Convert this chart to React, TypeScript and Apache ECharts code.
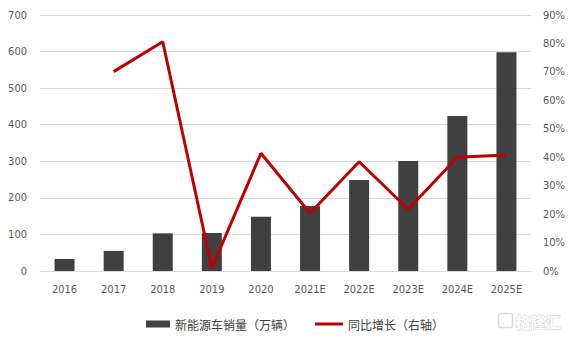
import React, { useEffect, useRef } from "react";
import * as echarts from "echarts";

const categories = ["2016", "2017", "2018", "2019", "2020", "2021E", "2022E", "2023E", "2024E", "2025E"];
const salesValues = [33, 55, 103, 104, 148, 178, 249, 301, 424, 598];
const growthValues: (number | null)[] = [null, 70.1, 80.6, 1.0, 41.4, 20.3, 38.4, 21.7, 40.0, 40.8];
const leftTicks = { min: 0, max: 700, interval: 100 };
const rightTicks = { min: 0, max: 90, interval: 10 };
const barName = "新能源车销量（万辆）";
const lineName = "同比增长（右轴）";

const FONT = "'Liberation Sans Narrow', 'DejaVu Sans Condensed', sans-serif";
const CJK = "'Noto Sans CJK SC', sans-serif";

export default function App() {
  const ref = useRef<HTMLDivElement>(null);
  useEffect(() => {
    if (!ref.current) return;
    const chart = echarts.init(ref.current, undefined, { renderer: "svg" });
    const legendText = { color: "#404040", fontSize: 12, fontFamily: CJK };
    chart.setOption({
      animation: false,
      backgroundColor: "#ffffff",
      grid: { left: 40, right: 40, top: 15, bottom: 70 },
      legend: [
        {
          left: 141,
          top: 313,
          itemGap: 4,
          itemWidth: 24,
          itemHeight: 7,
          textStyle: legendText,
          data: [{ name: barName, icon: "rect" }],
        },
        {
          left: 310,
          top: 313,
          itemGap: 4,
          itemWidth: 28,
          itemHeight: 3,
          textStyle: legendText,
          data: [{ name: lineName, icon: "rect" }],
        },
      ],
      xAxis: {
        type: "category",
        data: categories,
        axisLine: { show: true, lineStyle: { color: "#d9d9d9" } },
        axisTick: { show: false },
        axisLabel: { color: "#595959", fontSize: 11, fontFamily: FONT, margin: 13 },
      },
      yAxis: [
        {
          type: "value",
          min: leftTicks.min,
          max: leftTicks.max,
          interval: leftTicks.interval,
          axisLine: { show: false },
          axisTick: { show: false },
          splitLine: { lineStyle: { color: "#d9d9d9" } },
          axisLabel: { color: "#595959", fontSize: 11, fontFamily: FONT, margin: 13 },
        },
        {
          type: "value",
          min: rightTicks.min,
          max: rightTicks.max,
          interval: rightTicks.interval,
          axisLine: { show: false },
          axisTick: { show: false },
          splitLine: { show: false },
          axisLabel: { color: "#595959", fontSize: 11, fontFamily: FONT, margin: 12, formatter: "{value}%" },
        },
      ],
      series: [
        {
          name: barName,
          type: "bar",
          data: salesValues,
          barWidth: 20,
          itemStyle: { color: "#404040" },
        },
        {
          name: lineName,
          type: "line",
          yAxisIndex: 1,
          data: growthValues,
          symbol: "none",
          lineStyle: { color: "#c00000", width: 3 },
          itemStyle: { color: "#c00000" },
        },
      ],
      graphic: [
        {
          type: "group",
          left: 496,
          top: 311,
          children: [
            { type: "rect", shape: { x: 0, y: 0, width: 14, height: 14, r: 2 }, style: { fill: "none", stroke: "#d8d8d8", lineWidth: 1.5 } },
            { type: "text", x: 17, y: 0, style: { text: "格隆汇", fill: "#ffffff", stroke: "#d0d0d0", lineWidth: 1, fontSize: 15, fontFamily: CJK, fontWeight: "bold" } },
          ],
        },
      ],
    });
    return () => chart.dispose();
  }, []);
  return <div ref={ref} style={{ width: 571, height: 341, position: "absolute", left: 0, top: 0 }} />;
}
